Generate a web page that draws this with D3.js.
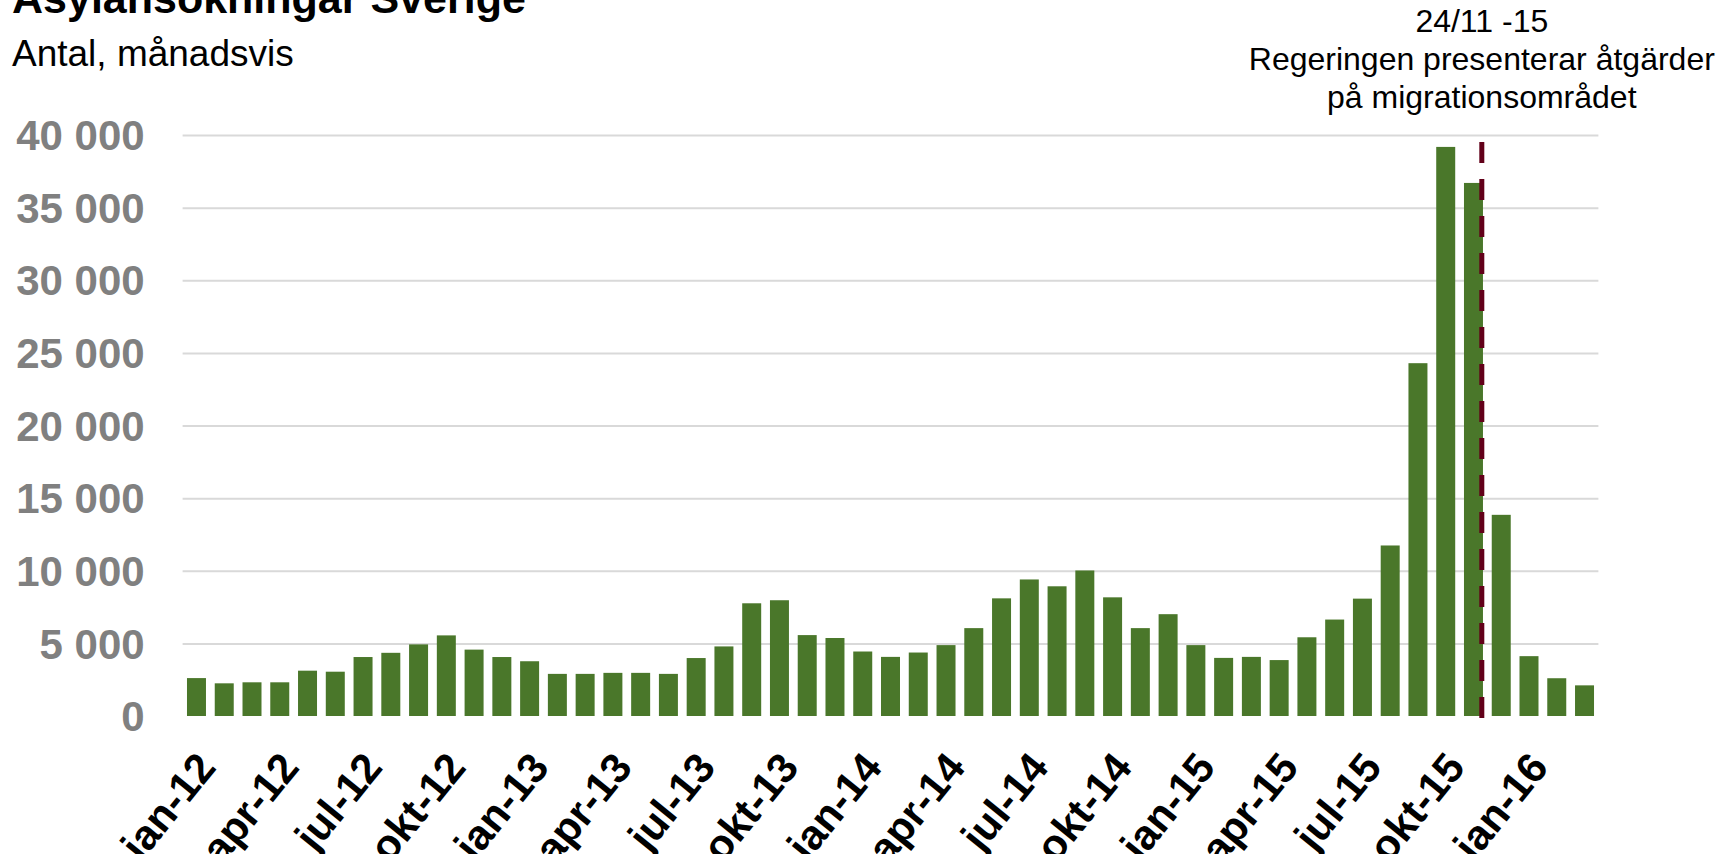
<!DOCTYPE html>
<html><head><meta charset="utf-8">
<script src="https://cdn.jsdelivr.net/npm/d3@7"></script>
<style>
body{margin:0;background:#fff}
svg{display:block}
text{font-family:"Liberation Sans",Arial,sans-serif}
</style>
</head><body>
<svg id="chart" width="1722" height="854"></svg>
<script>
// ---- data ----
const months = [
  "jan-12","feb-12","mar-12","apr-12","maj-12","jun-12","jul-12","aug-12","sep-12","okt-12","nov-12","dec-12",
  "jan-13","feb-13","mar-13","apr-13","maj-13","jun-13","jul-13","aug-13","sep-13","okt-13","nov-13","dec-13",
  "jan-14","feb-14","mar-14","apr-14","maj-14","jun-14","jul-14","aug-14","sep-14","okt-14","nov-14","dec-14",
  "jan-15","feb-15","mar-15","apr-15","maj-15","jun-15","jul-15","aug-15","sep-15","okt-15","nov-15","dec-15",
  "jan-16","feb-16","mar-16"
];
const applications = [
  2610,2250,2320,2320,3120,3050,4060,4350,4930,5550,4570,4060,
  3770,2900,2900,2970,2970,2900,3990,4790,7760,7970,5570,5370,
  4440,4070,4370,4880,6050,8100,9400,8930,10020,8170,6050,7010,
  4880,4000,4070,3850,5420,6640,8080,11740,24290,39180,36700,13850,
  4120,2600,2110
];
const yTicks = [0,5000,10000,15000,20000,25000,30000,35000,40000];
const xTickLabels = ["jan-12","apr-12","jul-12","okt-12","jan-13","apr-13","jul-13","okt-13","jan-14","apr-14","jul-14","okt-14","jan-15","apr-15","jul-15","okt-15","jan-16"];
const titleText = "Asylansökningar Sverige";
const subtitleText = "Antal, månadsvis";
const eventMonth = "nov-15";
const eventDayFraction = 24/30;
const annotationLines = ["24/11 -15","Regeringen presenterar åtgärder","på migrationsområdet"];

// ---- layout ----
const svg = d3.select("#chart");
const plot = {left:182.6, right:1598.4, top:135, bottom:716};

const x = d3.scaleBand().domain(months)
  .range([plot.left, plot.right])
  .paddingInner(0.316).paddingOuter(0.158);
const y = d3.scaleLinear().domain([0,40000]).range([plot.bottom, plot.top]);

const loc = d3.formatLocale({decimal:",", thousands:" ", grouping:[3], currency:["","kr"]});
const fmt = loc.format(",d");

// gridlines
const grid = svg.append("g").attr("transform",`translate(${plot.left},0)`)
  .call(d3.axisLeft(y).tickValues(yTicks.filter(v=>v>0)).tickSize(-(plot.right-plot.left)).tickFormat(""));
grid.select(".domain").remove();
grid.selectAll(".tick line").attr("stroke","#d9d9d9").attr("stroke-width",2);

// y labels
const yAxis = svg.append("g").attr("transform",`translate(${plot.left},0)`)
  .call(d3.axisLeft(y).tickValues(yTicks).tickSize(0).tickPadding(38).tickFormat(fmt));
yAxis.select(".domain").remove();
yAxis.selectAll("text")
  .attr("fill","#808080").attr("font-size",42).attr("font-weight","bold")
  .attr("font-family","'Liberation Sans',Arial,sans-serif").attr("dy","0.35em");

// bars
svg.append("g").selectAll("rect").data(months).join("rect")
  .attr("x",d=>x(d))
  .attr("width",x.bandwidth())
  .attr("y",(d,i)=>y(applications[i]))
  .attr("height",(d,i)=>y(0)-y(applications[i]))
  .attr("fill","#4a772a");

// x labels
const xAxis = svg.append("g").attr("transform",`translate(0,${plot.bottom})`)
  .call(d3.axisBottom(x).tickValues(xTickLabels).tickSize(0));
xAxis.select(".domain").remove();
xAxis.selectAll("text")
  .attr("fill","#000").attr("font-size",42).attr("font-weight","bold")
  .attr("font-family","'Liberation Sans',Arial,sans-serif")
  .attr("text-anchor","end").attr("x",0).attr("y",0).attr("dy",0)
  .attr("transform","translate(21,52) rotate(-51)");

// event line
const ex = x(eventMonth) - x.step()*x.paddingInner()/2 + x.step()*eventDayFraction;
svg.append("line")
  .attr("x1",ex).attr("x2",ex)
  .attr("y1",y(40000)+7).attr("y2",y(0)+2)
  .attr("stroke","#620019").attr("stroke-width",5)
  .attr("stroke-dasharray","21,16");

// annotation
const ann = svg.append("text").attr("text-anchor","middle").attr("font-size",32).attr("fill","#000");
annotationLines.forEach((t,i)=>{
  ann.append("tspan").attr("x",ex).attr("y",32+i*38).text(t);
});

// title & subtitle
svg.append("text").attr("x",12).attr("y",13).attr("font-size",43).attr("font-weight","bold").attr("fill","#000").text(titleText);
svg.append("text").attr("x",12).attr("y",66).attr("font-size",37).attr("fill","#000").text(subtitleText);
</script>
</body></html>
